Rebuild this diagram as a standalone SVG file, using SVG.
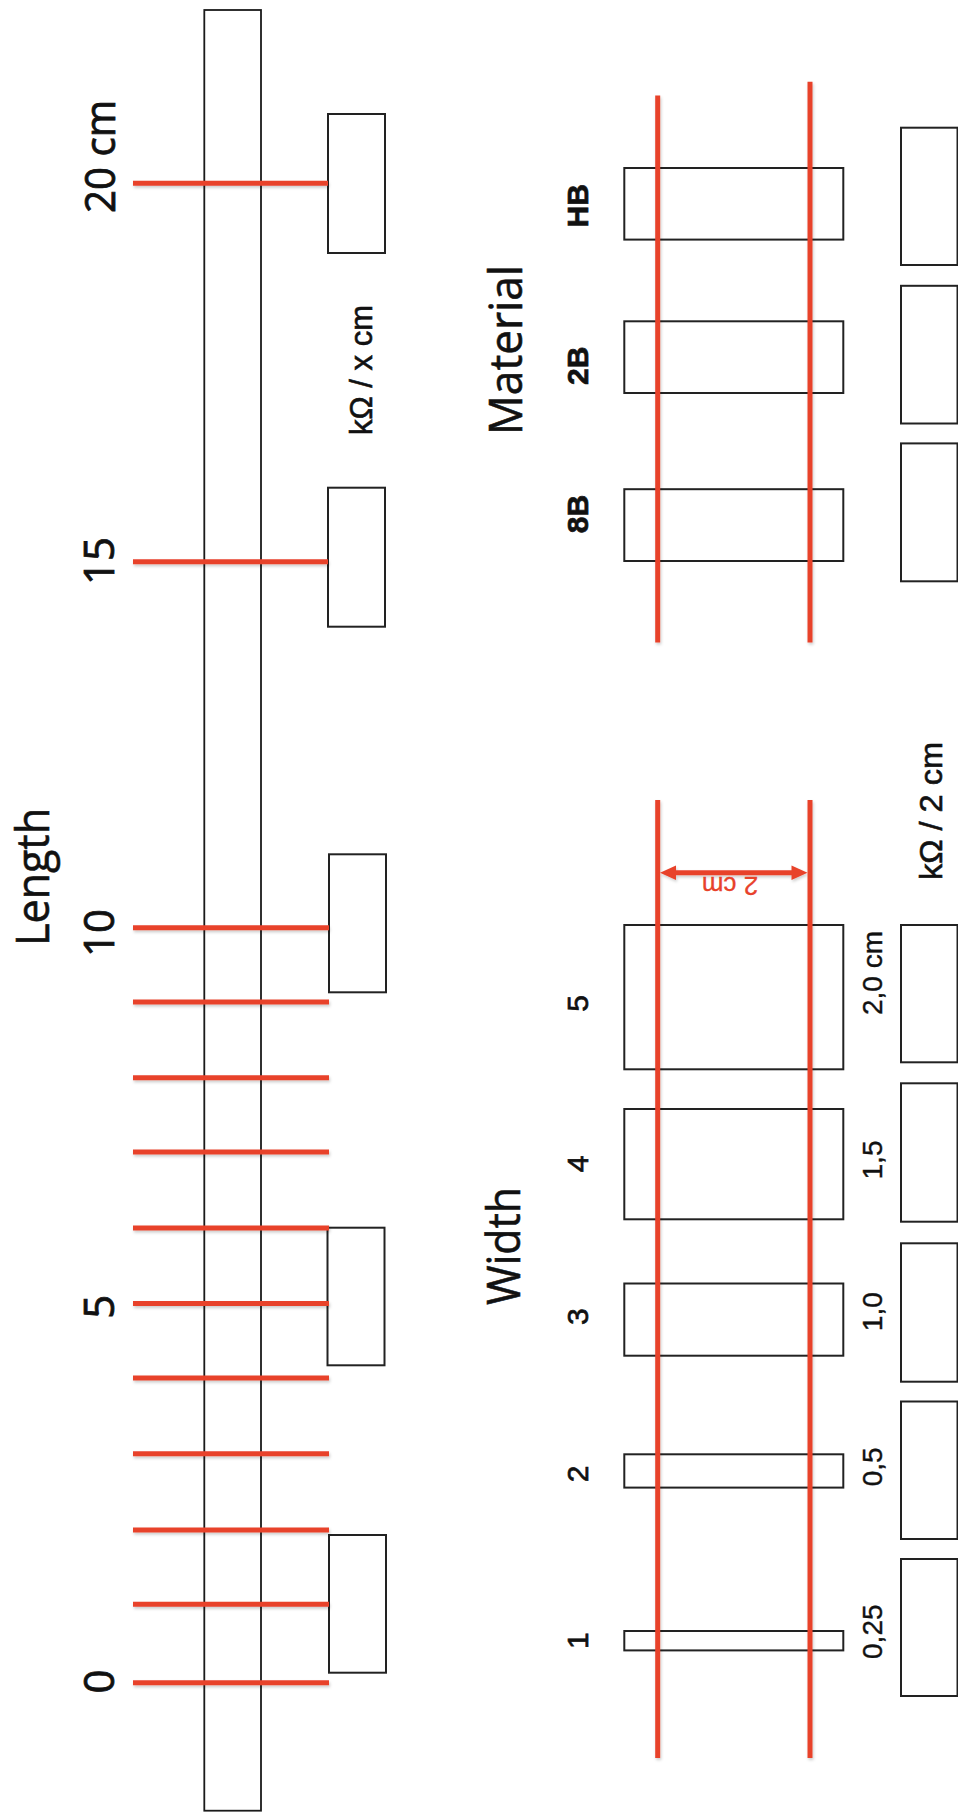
<svg xmlns="http://www.w3.org/2000/svg" width="958" height="1812" viewBox="0 0 958 1812">
<defs>
<style>
.box{fill:#fff;stroke:#222;stroke-width:2}
.bar{fill:#fff;stroke:#1a1a1a;stroke-width:1.8}
.red{stroke:#e8422b;stroke-width:5;fill:none}
.big{font-family:"Open Sans","Liberation Sans",sans-serif;font-size:46px;fill:#111;stroke:#111;stroke-width:0.6}
.num{font-family:"Open Sans","Liberation Sans",sans-serif;font-size:42px;fill:#111;stroke:#111;stroke-width:0.8}
.lab{font-family:"Liberation Sans",Arial,sans-serif;font-size:30px;fill:#111;stroke:#111;stroke-width:0.7}
.val{font-family:"Liberation Sans",Arial,sans-serif;font-size:28px;fill:#111;stroke:#111;stroke-width:0.4}
.kohm{font-family:"Liberation Sans",Arial,sans-serif;font-size:31px;fill:#111;stroke:#111;stroke-width:0.6}
</style>
<filter id="sh" filterUnits="userSpaceOnUse" x="0" y="0" width="958" height="1812">
<feDropShadow dx="1" dy="2" stdDeviation="1.5" flood-color="#000" flood-opacity="0.2"/>
</filter>
</defs>
<rect width="958" height="1812" fill="#fff"/>

<!-- Length section -->
<g id="length-bar"><rect class="bar" x="204.3" y="10" width="56.7" height="1800.7"/></g>
<g id="length-boxes">
<rect class="box" x="328" y="114" width="57" height="139"/>
<rect class="box" x="328" y="487.7" width="57" height="139"/>
<rect class="box" x="329" y="854.3" width="57" height="138"/>
<rect class="box" x="327.5" y="1227.7" width="57" height="137.6"/>
<rect class="box" x="329" y="1535" width="57" height="137.7"/>
</g>

<!-- Width section boxes -->
<g id="width-strips">
<rect class="box" x="624.3" y="925" width="219" height="144.3"/>
<rect class="box" x="624.3" y="1109" width="219" height="110.3"/>
<rect class="box" x="624.3" y="1283.5" width="219" height="72.2"/>
<rect class="box" x="624.3" y="1454.3" width="219" height="33.3"/>
<rect class="box" x="624.3" y="1631" width="219" height="19.4"/>
</g>
<g id="width-results">
<rect class="box" x="901" y="925" width="56.5" height="137.3"/>
<rect class="box" x="901" y="1083.3" width="56.5" height="138.4"/>
<rect class="box" x="901" y="1243.3" width="56.5" height="138.4"/>
<rect class="box" x="901" y="1401.5" width="56.5" height="137.5"/>
<rect class="box" x="901" y="1559" width="56.5" height="137"/>
</g>

<!-- Material section boxes -->
<g id="material-strips">
<rect class="box" x="624.3" y="168" width="219" height="71.6"/>
<rect class="box" x="624.3" y="321.3" width="219" height="71.7"/>
<rect class="box" x="624.3" y="489.2" width="219" height="71.8"/>
</g>
<g id="material-results">
<rect class="box" x="901" y="127.7" width="56.5" height="137.3"/>
<rect class="box" x="901" y="285.8" width="56.5" height="137.7"/>
<rect class="box" x="901" y="443.4" width="56.5" height="137.9"/>
</g>

<!-- red connectors -->
<g id="connectors" filter="url(#sh)">
<line class="red" x1="133" y1="183.3" x2="328" y2="183.3"/>
<line class="red" x1="133" y1="561.7" x2="328" y2="561.7"/>
<line class="red" x1="133" y1="927.7" x2="329" y2="927.7"/>
<line class="red" x1="133" y1="1002" x2="329" y2="1002"/>
<line class="red" x1="133" y1="1077.7" x2="329" y2="1077.7"/>
<line class="red" x1="133" y1="1152" x2="329" y2="1152"/>
<line class="red" x1="133" y1="1228" x2="329" y2="1228"/>
<line class="red" x1="133" y1="1303.5" x2="329" y2="1303.5"/>
<line class="red" x1="133" y1="1378" x2="329" y2="1378"/>
<line class="red" x1="133" y1="1453.7" x2="329" y2="1453.7"/>
<line class="red" x1="133" y1="1530" x2="329" y2="1530"/>
<line class="red" x1="133" y1="1604.3" x2="329" y2="1604.3"/>
<line class="red" x1="133" y1="1682.7" x2="329" y2="1682.7"/>
<line class="red" x1="657.7" y1="95.4" x2="657.7" y2="642.6"/>
<line class="red" x1="810" y1="81.7" x2="810" y2="642.6"/>
<line class="red" x1="657.7" y1="800" x2="657.7" y2="1758"/>
<line class="red" x1="810" y1="800" x2="810" y2="1758"/>
<line class="red" x1="672" y1="872.7" x2="795" y2="872.7"/>
<polygon points="660,872.7 676,865.5 676,880" fill="#e8422b"/>
<polygon points="807.5,872.7 791.5,865.5 791.5,880" fill="#e8422b"/>
</g>

<!-- Labels -->
<g id="title-length"><text class="big" transform="translate(49.3,946) rotate(-90)" textLength="138" lengthAdjust="spacingAndGlyphs">Length</text></g>
<g id="title-material"><text class="big" transform="translate(521.7,435) rotate(-90)" textLength="170" lengthAdjust="spacingAndGlyphs">Material</text></g>
<g id="title-width"><text class="big" transform="translate(520,1305) rotate(-90)" textLength="118" lengthAdjust="spacingAndGlyphs">Width</text></g>

<g id="length-numbers">
<text class="num" transform="translate(115,213) rotate(-90)" textLength="113" lengthAdjust="spacingAndGlyphs">20 cm</text>
<text class="num" text-anchor="middle" transform="translate(114,561) rotate(-90)">15</text>
<text class="num" text-anchor="middle" transform="translate(114,933) rotate(-90)">10</text>
<text class="num" text-anchor="middle" transform="translate(114,1306.7) rotate(-90)">5</text>
<text class="num" text-anchor="middle" transform="translate(114,1681.5) rotate(-90)">0</text>
</g>
<g id="length-unit"><text class="kohm" transform="translate(372,435) rotate(-90)" textLength="130" lengthAdjust="spacingAndGlyphs">kΩ / x cm</text></g>

<g id="material-labels">
<text class="lab" font-weight="bold" text-anchor="middle" transform="translate(588,205.8) rotate(-90)">HB</text>
<text class="lab" font-weight="bold" text-anchor="middle" transform="translate(588,365.8) rotate(-90)">2B</text>
<text class="lab" font-weight="bold" text-anchor="middle" transform="translate(588,514) rotate(-90)">8B</text>
</g>

<g id="width-labels">
<text class="lab" text-anchor="middle" transform="translate(588,1003.3) rotate(-90)">5</text>
<text class="lab" text-anchor="middle" transform="translate(588,1164) rotate(-90)">4</text>
<text class="lab" text-anchor="middle" transform="translate(588,1316.7) rotate(-90)">3</text>
<text class="lab" text-anchor="middle" transform="translate(588,1474) rotate(-90)">2</text>
<text class="lab" text-anchor="middle" transform="translate(588,1640.7) rotate(-90)">1</text>
</g>
<g id="width-values">
<text class="val" transform="translate(882,1015) rotate(-90)">2,0 cm</text>
<text class="val" text-anchor="middle" transform="translate(882,1160) rotate(-90)">1,5</text>
<text class="val" text-anchor="middle" transform="translate(882,1311.7) rotate(-90)">1,0</text>
<text class="val" text-anchor="middle" transform="translate(882,1466.8) rotate(-90)">0,5</text>
<text class="val" text-anchor="middle" transform="translate(882,1631.7) rotate(-90)">0,25</text>
</g>
<g id="width-unit"><text class="kohm" transform="translate(941.7,880) rotate(-90)" textLength="138" lengthAdjust="spacingAndGlyphs">kΩ / 2 cm</text></g>
<g id="gap-label"><text font-family="Liberation Sans, Arial, sans-serif" font-size="26" fill="#e8422b" stroke="#e8422b" stroke-width="0.3" text-anchor="middle" transform="translate(730,877) rotate(180)">2 cm</text></g>
</svg>
